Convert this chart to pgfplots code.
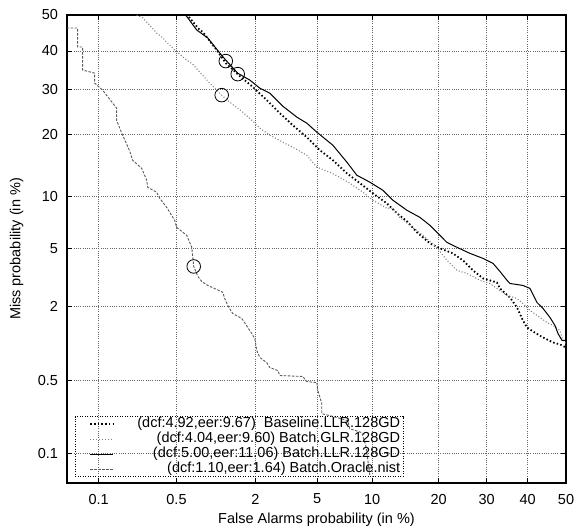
\documentclass[border=0pt]{standalone}
\usepackage{fontspec}
\setmainfont{Liberation Sans}
\usepackage{pgfplots}
\pgfplotsset{compat=1.18}
% DET plot: both axes are normal deviates (probit of the probability)
\begin{document}
\begin{tikzpicture}[font=\fontsize{14.5bp}{17bp}\selectfont]
\useasboundingbox (-67bp,-47bp) rectangle (507bp,483bp);
\begin{axis}[
  scale only axis, width=499bp, height=468bp,
  xmin=-3.30, xmax=0, ymin=-3.30, ymax=0,
  xtick={-3.0902,-2.5758,-2.0537,-1.6449,-1.2816,-0.8416,-0.5244,-0.2533,0},
  xticklabels={0.1,0.5,2,5,10,20,30,40,50},
  ytick={-3.0902,-2.5758,-2.0537,-1.6449,-1.2816,-0.8416,-0.5244,-0.2533,0},
  yticklabels={0.1,0.5,2,5,10,20,30,40,50},
  /pgf/number format/assume math mode=true,
  grid=major,
  major grid style={black!60, line width=0.75bp, dash pattern=on 0.75bp off 1.5bp},
  tick align=inside, major tick length=5bp,
  tick style={black, line width=0.8bp},
  axis line style={line width=1.2bp},
  xticklabel style={yshift=-7.5bp},
  yticklabel style={xshift=-5.5bp},
  xlabel={False Alarms probability (in \%)},
  ylabel={Miss probability (in \%)},
  xlabel style={at={(axis description cs:0.5,-0.0855)}, anchor=base},
  ylabel style={at={(axis description cs:-0.0934,0.5)}, anchor=base},
  legend image code/.code={
    \path[draw=none, fill=none] (0bp,0bp) -- (59bp,0bp);
    \draw[#1] (12bp,0bp) -- (35bp,0bp);},
  legend cell align=right,
  legend style={at={(axis description cs:0.016,0.0128)}, anchor=south west,
    draw=black, line width=0.8bp, dash pattern=on 1bp off 1.5bp, fill=none,
    inner xsep=3bp, inner ysep=0bp, row sep=0pt, column sep=0bp,
    nodes={inner xsep=0bp, inner ysep=0.75bp, text height=10.5bp, text depth=3bp}},
]
\addplot[black, line width=1.8bp, dash pattern=on 1.5bp off 2.2bp] coordinates {
(-2.515,0) (-2.488,-0.021) (-2.422,-0.106) (-2.402,-0.120) (-2.310,-0.247)
(-2.250,-0.339) (-2.157,-0.431) (-2.071,-0.508) (-1.979,-0.600) (-1.893,-0.692)
(-1.807,-0.777) (-1.714,-0.862) (-1.628,-0.953) (-1.542,-1.024) (-1.449,-1.116)
(-1.363,-1.186) (-1.277,-1.257) (-1.185,-1.328) (-1.118,-1.398) (-1.052,-1.455)
(-0.986,-1.532) (-0.900,-1.610) (-0.834,-1.645) (-0.748,-1.681) (-0.682,-1.730)
(-0.615,-1.801) (-0.549,-1.857) (-0.457,-1.886) (-0.437,-1.928) (-0.371,-1.992)
(-0.324,-2.062) (-0.285,-2.154) (-0.258,-2.203) (-0.218,-2.232) (-0.152,-2.274)
(-0.086,-2.309) (-0.040,-2.323) (0,-2.345)
};
\addlegendentry{(dcf:4.92,eer:9.67)\ \ Baseline.LLR.128GD}
\addplot[black!50, line width=1.1bp, dash pattern=on 1bp off 2bp] coordinates {
(-2.839,0) (-2.799,-0.021) (-2.773,-0.049) (-2.707,-0.127) (-2.667,-0.162)
(-2.588,-0.247) (-2.508,-0.318) (-2.469,-0.346) (-2.422,-0.403) (-2.356,-0.480)
(-2.310,-0.530) (-2.270,-0.572) (-2.224,-0.614) (-2.138,-0.685) (-2.071,-0.749)
(-2.025,-0.798) (-1.959,-0.847) (-1.873,-0.897) (-1.807,-0.932) (-1.714,-0.989)
(-1.648,-1.073) (-1.562,-1.109) (-1.496,-1.144) (-1.430,-1.186) (-1.343,-1.250)
(-1.277,-1.306) (-1.185,-1.363) (-1.145,-1.363) (-1.099,-1.427) (-1.032,-1.483)
(-0.946,-1.554) (-0.854,-1.638) (-0.788,-1.730) (-0.721,-1.801) (-0.655,-1.822)
(-0.569,-1.871) (-0.503,-1.893) (-0.457,-1.928) (-0.390,-1.977) (-0.324,-1.999)
(-0.285,-2.034) (-0.238,-2.083) (-0.172,-2.133) (-0.126,-2.168) (-0.086,-2.189)
(-0.040,-2.225) (-0.020,-2.295) (0,-2.316)
};
\addlegendentry{(dcf:4.04,eer:9.60) Batch.GLR.128GD}
\addplot[black, solid, line width=1bp] coordinates {
(-2.515,0) (-2.442,-0.106) (-2.369,-0.162) (-2.290,-0.268) (-2.250,-0.318)
(-2.171,-0.410) (-2.091,-0.459) (-2.025,-0.516) (-1.959,-0.551) (-1.873,-0.643)
(-1.780,-0.720) (-1.714,-0.763) (-1.648,-0.826) (-1.542,-0.918) (-1.449,-1.038)
(-1.383,-1.130) (-1.297,-1.179) (-1.211,-1.236) (-1.145,-1.306) (-1.052,-1.377)
(-0.966,-1.427) (-0.900,-1.483) (-0.854,-1.532) (-0.788,-1.603) (-0.721,-1.638)
(-0.635,-1.681) (-0.549,-1.716) (-0.483,-1.751) (-0.437,-1.808) (-0.390,-1.871)
(-0.371,-1.893) (-0.285,-1.907) (-0.238,-1.928) (-0.192,-2.027) (-0.152,-2.069)
(-0.106,-2.133) (-0.073,-2.189) (-0.053,-2.246) (-0.026,-2.295) (0,-2.295)
};
\addlegendentry{(dcf:5.00,eer:11.06) Batch.LLR.128GD}
\addplot[black!65, line width=0.9bp, dash pattern=on 2.5bp off 1.5bp] coordinates {
(-3.302,-0.092) (-3.230,-0.092) (-3.230,-0.226) (-3.197,-0.226) (-3.197,-0.388)
(-3.117,-0.410) (-3.117,-0.480) (-3.064,-0.530) (-2.972,-0.657) (-2.972,-0.742)
(-2.938,-0.833) (-2.885,-0.960) (-2.866,-1.024) (-2.806,-1.081) (-2.773,-1.165)
(-2.766,-1.215) (-2.707,-1.250) (-2.687,-1.292) (-2.641,-1.356) (-2.588,-1.448)
(-2.575,-1.497) (-2.508,-1.554) (-2.475,-1.638) (-2.462,-1.773) (-2.435,-1.843)
(-2.409,-1.879) (-2.369,-1.907) (-2.310,-1.935) (-2.270,-1.955) (-2.257,-1.999)
(-2.237,-2.048) (-2.204,-2.105) (-2.144,-2.140) (-2.091,-2.225) (-2.058,-2.281)
(-2.045,-2.366) (-2.025,-2.415) (-1.979,-2.451) (-1.959,-2.486) (-1.906,-2.507)
(-1.893,-2.542) (-1.741,-2.549) (-1.714,-2.585) (-1.648,-2.592) (-1.641,-2.648)
(-1.615,-2.740) (-1.615,-2.811) (-1.562,-2.825) (-1.443,-2.860) (-1.430,-2.917)
(-1.350,-2.945) (-1.324,-3.037) (-1.310,-3.143) (-1.297,-3.249)
};
\addlegendentry{(dcf:1.10,eer:1.64) Batch.Oracle.nist}
% min DCF points
\addplot[forget plot, only marks, mark=o, mark size=6.8bp, black,
  mark options={solid, line width=0.8bp}] coordinates {
(-2.250,-0.325) (-2.171,-0.417) (-2.277,-0.565) (-2.462,-1.773)
};
\end{axis}
\end{tikzpicture}
\end{document}
